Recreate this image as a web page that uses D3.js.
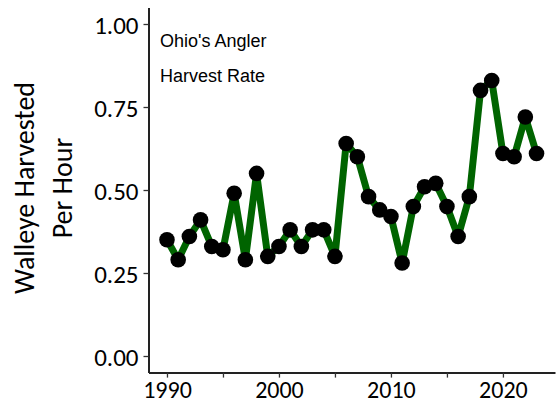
<!DOCTYPE html>
<html>
<head>
<meta charset="utf-8">
<script src="https://cdn.jsdelivr.net/npm/d3@7"></script>
<style>
  body { margin: 0; background: #fff; }
  svg { display: block; }
</style>
</head>
<body>
<svg id="chart" width="559" height="405"></svg>
<script>
const years = [1990, 1991, 1992, 1993, 1994, 1995, 1996, 1997, 1998, 1999,
    2000, 2001, 2002, 2003, 2004, 2005, 2006, 2007, 2008, 2009,
    2010, 2011, 2012, 2013, 2014, 2015, 2016, 2017, 2018, 2019,
    2020, 2021, 2022, 2023]
const harvestRate = [0.35, 0.29, 0.36, 0.41, 0.33, 0.32, 0.49, 0.29, 0.55, 0.30,
    0.33, 0.38, 0.33, 0.38, 0.38, 0.30, 0.64, 0.60, 0.48, 0.44,
    0.42, 0.28, 0.45, 0.51, 0.52, 0.45, 0.36, 0.48, 0.80, 0.83,
    0.61, 0.60, 0.72, 0.61]
const xTicks = [1990, 1995, 2000, 2005, 2010, 2015, 2020]
const xLabels = ['1990', '', '2000', '', '2010', '', '2020']
const yTicks = [0, 0.25, 0.5, 0.75, 1]
const titleLines = ['Walleye Harvested', 'Per Hour']
const noteLines = ["Ohio's Angler", 'Harvest Rate']

const svg = d3.select('#chart')
const panel = { left: 148.5, right: 555, top: 7.4, bottom: 372.6 }
const tickFont = 'Carlito, Lato, "Open Sans", sans-serif'

// ggplot style 5% padding on both scales
const x = d3.scaleLinear().domain([1988.35, 2024.65]).range([panel.left, panel.right])
const y = d3.scaleLinear().domain([-0.05, 1.05]).range([panel.bottom, panel.top])

const xAxis = svg.append('g')
    .attr('transform', `translate(0,${panel.bottom})`)
    .call(d3.axisBottom(x).tickValues(xTicks)
        .tickFormat((d, i) => xLabels[i]).tickSize(5).tickPadding(4).tickSizeOuter(0))
const yAxis = svg.append('g')
    .attr('transform', `translate(${panel.left},0)`)
    .call(d3.axisLeft(y).tickValues(yTicks)
        .tickFormat(d3.format('.2f')).tickSize(5).tickPadding(5).tickSizeOuter(0))

;[xAxis, yAxis].forEach(axis => {
    axis.select('.domain').attr('stroke', '#222').attr('stroke-width', 2)
    axis.selectAll('.tick line').attr('stroke', '#333').attr('stroke-width', 1.3)
    axis.selectAll('.tick text')
        .attr('fill', '#000')
        .style('font-family', tickFont)
})
yAxis.selectAll('.tick text').attr('dy', '0.36em').style('font-size', '25px')
xAxis.selectAll('.tick text').attr('dy', '0.68em').style('font-size', '24px')

const line = d3.line()
    .x((d, i) => x(years[i]))
    .y(d => y(d))
svg.append('path')
    .datum(harvestRate)
    .attr('fill', 'none')
    .attr('stroke', '#006400')
    .attr('stroke-width', 7)
    .attr('stroke-linejoin', 'round')
    .attr('d', line)

svg.append('g').selectAll('circle')
    .data(harvestRate)
    .join('circle')
    .attr('cx', (d, i) => x(years[i]))
    .attr('cy', d => y(d))
    .attr('r', 7.8)
    .attr('fill', '#000')

// two-line y axis title
const midY = 188
titleLines.forEach((t, i) => {
    svg.append('text')
        .attr('transform', `translate(${34 + i * 38},${midY}) rotate(-90)`)
        .attr('text-anchor', 'middle')
        .style('font-family', tickFont)
        .style('font-size', '28px')
        .attr('fill', '#000')
        .text(t)
})

noteLines.forEach((t, i) => {
    svg.append('text')
        .attr('x', 160)
        .attr('y', 47 + i * 35)
        .style('font-family', '"Liberation Sans", Arial, sans-serif')
        .style('font-size', '18px')
        .attr('fill', '#000')
        .text(t)
})
</script>
</body>
</html>
